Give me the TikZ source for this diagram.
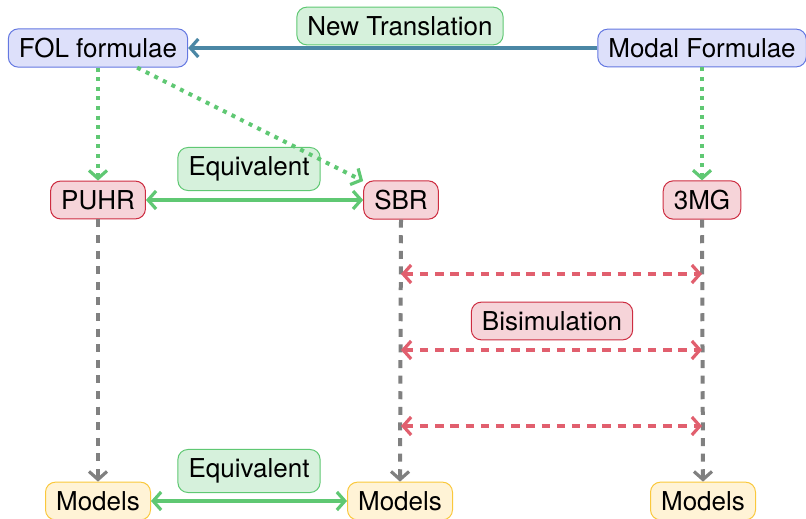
\documentclass[tikz,border=0pt]{standalone}
\usepackage{fontspec}
\setmainfont{TeX Gyre Heros}
\usetikzlibrary{arrows.meta}
\definecolor{bfill}{RGB}{221,224,250}
\definecolor{bdraw}{RGB}{100,120,225}
\definecolor{rfill}{RGB}{246,212,217}
\definecolor{rdraw}{RGB}{205,45,65}
\definecolor{gfill}{RGB}{214,241,220}
\definecolor{gdraw}{RGB}{95,200,115}
\definecolor{yfill}{RGB}{255,243,214}
\definecolor{ydraw}{RGB}{250,200,60}
\definecolor{garrow}{RGB}{95,200,115}
\definecolor{rarrow}{RGB}{225,95,110}
\definecolor{barrow}{RGB}{75,135,165}
\definecolor{grayarrow}{RGB}{128,128,128}
\tikzset{
  box/.style={rounded corners=5pt, line width=0.5pt, inner xsep=5.3pt, inner ysep=4.6pt,
    font=\fontsize{13}{15}\selectfont},
  bluebox/.style={box, fill=bfill, draw=bdraw},
  redbox/.style={box, fill=rfill, draw=rdraw},
  greenbox/.style={box, fill=gfill, draw=gdraw},
  yellowbox/.style={box, fill=yfill, draw=ydraw},
  tip/.style={-{Straight Barb[length=4pt,width=9pt,line width=1.6pt]}},
  dtip/.style={{Straight Barb[length=4pt,width=9pt,line width=1.6pt]}-{Straight Barb[length=4pt,width=9pt,line width=1.6pt]}},
  greendot/.style={tip, draw=garrow, line width=2pt, dash pattern=on 2pt off 2.8pt},
  greensolid/.style={dtip, draw=garrow, line width=2pt},
  bluesolid/.style={tip, draw=barrow, line width=2pt},
  graydash/.style={tip, draw=grayarrow, line width=2pt, dash pattern=on 4pt off 3.8pt},
  reddash/.style={dtip, draw=rarrow, line width=2pt, dash pattern=on 4.2pt off 3.4pt},
}
\begin{document}
\begin{tikzpicture}[x=0.5pt,y=-0.5pt]
\useasboundingbox (0,0) rectangle (806,518);
\node[bluebox] (fol) at (98,48) {FOL formulae};
\node[bluebox] (modal) at (702,48) {Modal Formulae};
\node[greenbox] (newtr) at (400,26) {New Translation};
\node[redbox] (puhr) at (98,200) {PUHR};
\node[redbox] (sbr) at (401,200) {SBR};
\node[redbox] (mg) at (702,200) {3MG};
\node[greenbox] (eq1) at (249,169) {Equivalent};
\node[redbox] (bisim) at (552,321) {Bisimulation};
\node[yellowbox] (m1) at (98,501) {Models};
\node[yellowbox] (m2) at (400,501) {Models};
\node[yellowbox] (m3) at (703,501) {Models};
\node[greenbox] (eq2) at (249,471) {Equivalent};

\draw[bluesolid] (modal) -- (fol);
\draw[greendot] (fol) -- (puhr);
\draw[greendot] (modal) -- (mg);
\draw[greendot] (fol) -- (sbr);
\draw[greensolid] (puhr) -- (sbr);
\draw[graydash] (puhr) -- (m1);
\draw[graydash] (sbr.south) -- (m2.north);
\draw[graydash] (mg.south) -- (m3.north);
\coordinate (l1) at (401,274); \coordinate (r1) at (702,274);
\coordinate (l2) at (401,350); \coordinate (r2) at (702,350);
\coordinate (l3) at (401,426); \coordinate (r3) at (702,426);
\draw[reddash] (l1) -- (r1);
\draw[reddash] (l2) -- (r2);
\draw[reddash] (l3) -- (r3);
\draw[greensolid] (m1) -- (m2);
\end{tikzpicture}
\end{document}
